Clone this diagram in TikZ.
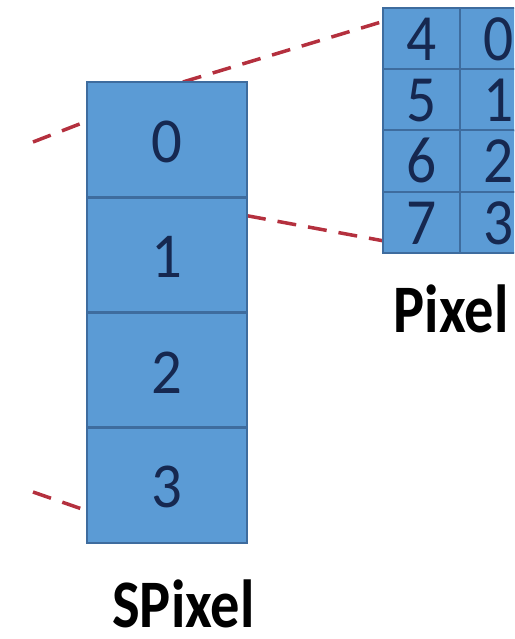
\documentclass[tikz,border=0pt]{standalone}
\usepackage{fontspec}
\setmainfont{Carlito}
\usetikzlibrary{calc,backgrounds}
\definecolor{cellblue}{RGB}{91,155,213}
\definecolor{celledge}{RGB}{62,108,158}
\definecolor{digitcol}{RGB}{22,40,80}
\definecolor{dashred}{RGB}{180,48,62}
\tikzset{
  scell/.style={draw=celledge, line width=2.5pt, fill=cellblue, minimum width=160pt, minimum height=115.25pt, inner sep=0pt, outer sep=0pt},
  gcell/.style={draw=celledge, line width=2pt, fill=cellblue, minimum width=77pt, minimum height=61.25pt, inner sep=0pt, outer sep=0pt},
  sdigit/.style={text=digitcol, font=\fontsize{64}{64}\selectfont, xscale=0.95, inner sep=0pt},
  gdigit/.style={text=digitcol, font=\fontsize{66}{66}\selectfont, xscale=0.9, inner sep=0pt, text height=40pt, text depth=0pt},
  biglabel/.style={font=\bfseries\fontsize{68}{68}\selectfont, inner sep=0pt, text=black, text height=44pt, text depth=0pt},
  reddash/.style={draw=dashred, line width=3.5pt, dash pattern=on 19pt off 12pt}
}
\begin{document}
\begin{tikzpicture}[x=1pt,y=-1pt]
\useasboundingbox (0,0) rectangle (514,639);
\clip (0,0) rectangle (514,639);
% SPixel column
\node[scell] (s0) at (167,139.6) {};
\node[scell] (s1) at (167,254.9) {};
\node[scell] (s2) at (167,370.1) {};
\node[scell] (s3) at (167,485.4) {};
\node[sdigit] (t0) at (167,142) {0};
\node[sdigit] (t1) at (167,257) {1};
\node[sdigit] (t2) at (167,373) {2};
\node[sdigit] (t3) at (167,487) {3};
\draw[celledge, line width=2.5pt] (s0.north west) rectangle (s3.south east);
% Pixel grid
\node[gcell] (g4) at (421.5,38.6) {};
\node[gcell] (g5) at (421.5,99.9) {};
\node[gcell] (g6) at (421.5,161.1) {};
\node[gcell] (g7) at (421.5,222.4) {};
\node[gcell] (g0) at (498.5,38.6) {};
\node[gcell] (g1) at (498.5,99.9) {};
\node[gcell] (g2) at (498.5,161.1) {};
\node[gcell] (g3) at (498.5,222.4) {};
\foreach \n/\d/\xx/\yy in {u4/4/421.5/40.5, u5/5/421.5/101.5, u6/6/421.5/162.5, u7/7/421.5/224,
                            u0/0/498.5/40.5, u1/1/498.5/101.5, u2/2/498.5/162.5, u3/3/498.5/224}
  \node[gdigit] (\n) at (\xx,\yy) {\d};
% labels
\node[biglabel, xscale=0.86] (spl) at (183.5,605) {SPixel};
\node[biglabel, xscale=0.86] (pl) at (451,310) {Pixel};
% free ends of connectors
\coordinate (la) at (33,142);
\coordinate (lb) at (33,492);
% connectors behind boxes
\begin{scope}[on background layer]
\draw[reddash] (la) -- ($(s0.north west)!0.34!(s0.south west)$);
\draw[reddash] (lb) -- ($(s3.north west)!0.72!(s3.south west)$);
\draw[reddash] ($(s0.north west)!0.6!(s0.north east)$) -- ($(g4.north west)!0.22!(g4.south west)$);
\draw[reddash] ($(s1.north east)!0.16!(s1.south east)$) -- ($(g7.north west)!0.8!(g7.south west)$);
\end{scope}
\end{tikzpicture}
\end{document}
